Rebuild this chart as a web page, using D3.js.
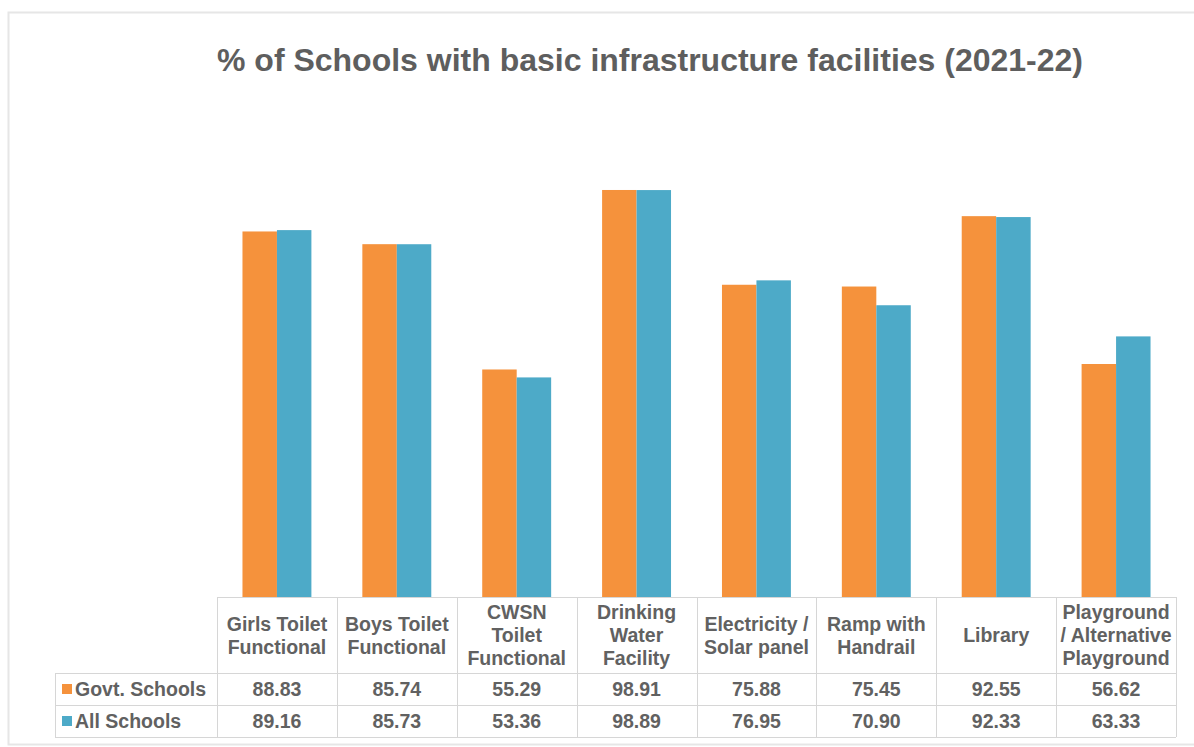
<!DOCTYPE html>
<html>
<head>
<meta charset="utf-8">
<script src="https://cdn.jsdelivr.net/npm/d3@7"></script>
<style>
  html, body { margin: 0; padding: 0; background: #ffffff; }
  svg { display: block; }
  text { font-family: "Liberation Sans", Arial, sans-serif; }
</style>
</head>
<body>
<svg id="chart" width="1194" height="747"></svg>
<script>
// Facility categories (each entry is one cell of the header row; lines split on "\n")
const categories = [
  "Girls Toilet\nFunctional",
  "Boys Toilet\nFunctional",
  "CWSN\nToilet\nFunctional",
  "Drinking\nWater\nFacility",
  "Electricity /\nSolar panel",
  "Ramp with\nHandrail",
  "Library",
  "Playground\n/ Alternative\nPlayground"
];
const seriesNames = ["Govt. Schools", "All Schools"];
const govtSchools = [88.83, 85.74, 55.29, 98.91, 75.88, 75.45, 92.55, 56.62];
const allSchools  = [89.16, 85.73, 53.36, 98.89, 76.95, 70.90, 92.33, 63.33];
const seriesColors = ["#F5923C", "#4DAAC8"];
const titleText = "% of Schools with basic infrastructure facilities (2021-22)";

const series = [govtSchools, allSchools];
const svg = d3.select("#chart");

// outer frame
svg.append("rect")
  .attr("x", 8.5).attr("y", 12.5).attr("width", 1200).attr("height", 732)
  .attr("fill", "none").attr("stroke", "#e6e6e6").attr("stroke-width", 2);

// title, fitted to its span
const title = svg.append("text")
  .attr("x", 650).attr("y", 71)
  .attr("text-anchor", "middle")
  .attr("font-size", 30.5).attr("font-weight", "bold")
  .attr("fill", "#5e5e5e")
  .text(titleText);
title.attr("textLength", 866).attr("lengthAdjust", "spacingAndGlyphs");

// scales
const plotLeft = 217, plotRight = 1176, baseY = 597;
const cols = d3.scaleBand().domain(d3.range(categories.length)).range([plotLeft, plotRight]);
const x = d3.scaleBand().domain(d3.range(categories.length)).range([plotLeft, plotRight])
  .paddingInner(0.425).paddingOuter(0.2125);
const xs = d3.scaleBand().domain(d3.range(series.length)).range([0, x.bandwidth()]);
const y = d3.scaleLinear().domain([0, 100]).range([baseY, 185.5]);

// bars
const g = svg.append("g");
series.forEach((vals, si) => {
  g.selectAll(null).data(vals).enter().append("rect")
    .attr("x", (d, i) => x(i) + xs(si))
    .attr("width", xs.bandwidth())
    .attr("y", d => y(d))
    .attr("height", d => baseY - y(d))
    .attr("fill", seriesColors[si]);
});

// data table beneath the plot
const gridColor = "#d6d6d6";
const headerTop = baseY, headerBottom = 673, rowH = 32;
const labelLeft = 55;
const tableBottom = headerBottom + rowH * series.length;
const tg = svg.append("g");

// horizontal rules
tg.append("line").attr("x1", plotLeft).attr("x2", plotRight)
  .attr("y1", headerTop + 0.5).attr("y2", headerTop + 0.5).attr("stroke", gridColor);
for (let r = 0; r <= series.length; r++) {
  const yy = headerBottom + r * rowH + 0.5;
  tg.append("line").attr("x1", labelLeft).attr("x2", plotRight)
    .attr("y1", yy).attr("y2", yy).attr("stroke", gridColor);
}
// vertical rules
tg.append("line").attr("x1", labelLeft + 0.5).attr("x2", labelLeft + 0.5)
  .attr("y1", headerBottom).attr("y2", tableBottom).attr("stroke", gridColor);
for (let i = 0; i <= categories.length; i++) {
  const xx = Math.round(plotLeft + i * cols.step()) + 0.5;
  tg.append("line").attr("x1", xx).attr("x2", xx)
    .attr("y1", headerTop).attr("y2", tableBottom).attr("stroke", gridColor);
}

const textColor = "#616161";
const fs = 19.5, lineH = 23;
// header labels
categories.forEach((c, i) => {
  const lines = c.split("\n");
  const cx = cols(i) + cols.bandwidth() / 2;
  const cy = (headerTop + headerBottom) / 2;
  const t = tg.append("text")
    .attr("text-anchor", "middle")
    .attr("font-size", fs).attr("font-weight", "bold").attr("fill", textColor);
  lines.forEach((ln, k) => {
    t.append("tspan").attr("x", cx)
      .attr("y", cy + (k - (lines.length - 1) / 2) * lineH + 7)
      .text(ln);
  });
});

// series rows: legend key, name, values
series.forEach((vals, si) => {
  const cy = headerBottom + si * rowH + rowH / 2;
  tg.append("rect").attr("x", 62).attr("y", cy - 5).attr("width", 10).attr("height", 10)
    .attr("fill", seriesColors[si]);
  tg.append("text").attr("x", 75).attr("y", cy + 7)
    .attr("font-size", fs).attr("font-weight", "bold").attr("fill", textColor)
    .text(seriesNames[si]);
  tg.selectAll(null).data(vals).enter().append("text")
    .attr("x", (d, i) => cols(i) + cols.bandwidth() / 2)
    .attr("y", cy + 7)
    .attr("text-anchor", "middle")
    .attr("font-size", fs).attr("font-weight", "bold").attr("fill", textColor)
    .text(d => d.toFixed(2));
});
</script>
</body>
</html>
